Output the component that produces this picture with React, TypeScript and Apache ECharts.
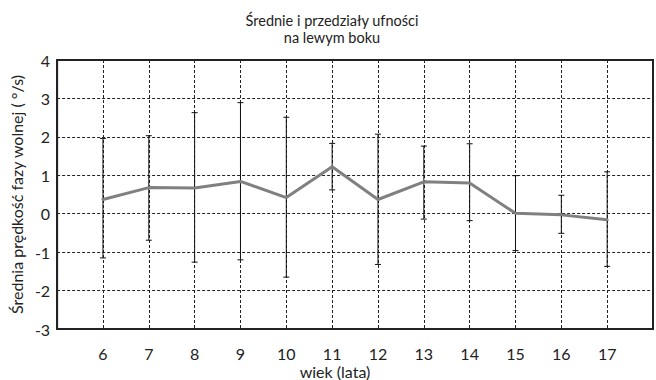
import React, { useEffect, useRef } from "react";
import * as echarts from "echarts";

const ages = [6, 7, 8, 9, 10, 11, 12, 13, 14, 15, 16, 17];
const means = [0.37, 0.68, 0.67, 0.84, 0.42, 1.22, 0.37, 0.83, 0.8, 0.01, -0.03, -0.16];
const upper = [1.96, 2.03, 2.63, 2.89, 2.51, 1.83, 2.07, 1.76, 1.82, 0.99, 0.48, 1.09];
const lower = [-1.15, -0.69, -1.26, -1.2, -1.65, 0.62, -1.32, -0.14, -0.18, -0.96, -0.51, -1.37];
const titleText = "Średnie i przedziały ufności\nna lewym boku";
const yName = "Średnia prędkość fazy wolnej ( °/s)";
const xName = "wiek (lata)";

const FONT = "Lato";

export default function App() {
  const ref = useRef<HTMLDivElement>(null);
  useEffect(() => {
    if (!ref.current) return;
    const chart = echarts.init(ref.current, undefined, { renderer: "svg" });
    const errData = ages.map((a, i) => [a, lower[i], upper[i]]);
    const lineData = ages.map((a, i) => [a, means[i]]);
    chart.setOption({
      animation: false,
      backgroundColor: "#ffffff",
      textStyle: { fontFamily: FONT },
      title: {
        text: titleText,
        left: 332,
        top: 12,
        textAlign: "center",
        padding: 0,
        textStyle: { fontFamily: FONT, fontSize: 14.5, fontWeight: "normal", color: "#222", lineHeight: 17 },
      },
      grid: {
        left: 57,
        top: 60,
        right: -6,
        bottom: 51,
        show: true,
        borderColor: "#222",
        borderWidth: 2,
        backgroundColor: "transparent",
      },
      xAxis: {
        type: "value",
        min: 5,
        max: 18,
        interval: 1,
        axisLine: { show: true, onZero: false, lineStyle: { color: "#222", width: 2 } },
        axisTick: { show: false },
        splitLine: { show: true, lineStyle: { color: "#222", width: 1, type: [3, 2] } },
        axisLabel: {
          margin: 16,
          fontSize: 16,
          color: "#222",
          fontFamily: FONT,
          formatter: (v: number) => (ages.indexOf(v) >= 0 ? String(v) : ""),
        },
      },
      yAxis: {
        type: "value",
        min: -3,
        max: 4,
        interval: 1,
        axisLine: { show: true, onZero: false, lineStyle: { color: "#222", width: 2 } },
        axisTick: { show: false },
        splitLine: { show: true, lineStyle: { color: "#222", width: 1, type: [3, 2] } },
        axisLabel: { margin: 7, fontSize: 16, color: "#222", fontFamily: FONT },
        name: yName,
        nameLocation: "middle",
        nameGap: 31,
        nameRotate: 90,
        nameTextStyle: { fontSize: 16, color: "#222", fontFamily: FONT },
      },
      graphic: [
        {
          type: "text",
          x: 335,
          y: 371,
          style: {
            text: xName,
            fontSize: 16,
            fill: "#222",
            fontFamily: FONT,
            textAlign: "center",
            textVerticalAlign: "middle",
          },
        },
      ],
      series: [
        {
          type: "custom",
          data: errData,
          z: 2,
          renderItem: (params: any, api: any) => {
            const x = api.value(0);
            const lo = api.coord([x, api.value(1)]);
            const hi = api.coord([x, api.value(2)]);
            const w = 3;
            const st = { stroke: "#111", lineWidth: 1 };
            return {
              type: "group",
              children: [
                { type: "line", shape: { x1: hi[0], y1: hi[1], x2: lo[0], y2: lo[1] }, style: st },
                { type: "line", shape: { x1: hi[0] - w, y1: hi[1], x2: hi[0] + w, y2: hi[1] }, style: st },
                { type: "line", shape: { x1: lo[0] - w, y1: lo[1], x2: lo[0] + w, y2: lo[1] }, style: st },
              ],
            };
          },
        },
        {
          type: "line",
          data: lineData,
          z: 3,
          showSymbol: false,
          symbol: "none",
          lineStyle: { color: "#808080", width: 3, cap: "round", join: "round" },
        },
      ],
    });
    return () => chart.dispose();
  }, []);
  return <div ref={ref} style={{ width: 656, height: 380, position: "absolute", left: 0, top: 0 }} />;
}
